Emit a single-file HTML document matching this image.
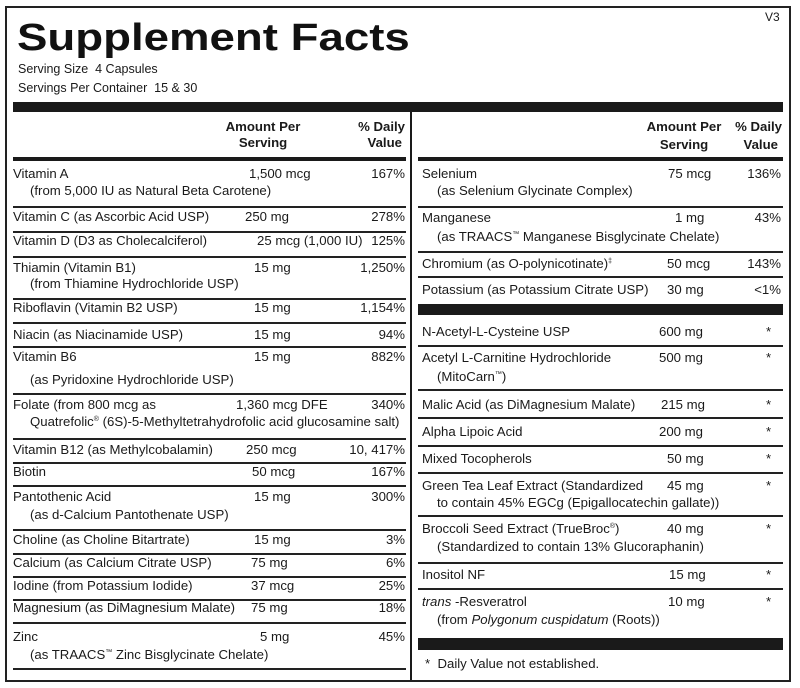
<!DOCTYPE html>
<html><head><meta charset="utf-8"><style>
body{margin:0;background:#fff;}
#c{position:relative;width:800px;height:688px;overflow:hidden;background:#fff;font-family:"Liberation Sans",Arial,sans-serif;color:#1a1a1a;font-size:13.2px;}
.t{position:absolute;white-space:nowrap;line-height:16px;}
.r{text-align:right;}
.b{font-weight:bold;}
.hl{position:absolute;background:#222;height:1.5px;}
.bar{position:absolute;background:#1a1a1a;}
sup{font-size:7px;line-height:0;vertical-align:5px;}
</style></head><body><div id="c">
<div style="position:absolute;left:5px;top:6px;width:782px;height:672px;border:2px solid #222;"></div>
<div class="t b" style="left:17px;top:15px;font-size:38px;line-height:46px;transform:scaleX(1.2);transform-origin:0 0;color:#111;">Supplement Facts</div>
<div class="t" style="left:765px;top:9px;font-size:12px;">V3</div>
<div class="t" style="left:18px;top:61px;font-size:12.5px;">Serving Size&nbsp; 4 Capsules</div>
<div class="t" style="left:18px;top:80px;font-size:12.5px;">Servings Per Container&nbsp; 15 &amp; 30</div>
<div class="bar" style="left:13px;top:102px;width:770px;height:10px;"></div>
<div class="bar" style="left:410px;top:112px;width:2px;height:568px;"></div>
<!-- headers -->
<div class="t b" style="left:213px;top:119px;width:100px;text-align:center;">Amount Per<br>Serving</div>
<div class="t b r" style="right:395px;top:119px;width:80px;">% Daily<br><span style="margin-right:3px">Value</span></div>
<div class="t b" style="left:634px;top:119px;width:100px;text-align:center;">Amount Per</div>
<div class="t b" style="left:634px;top:137px;width:100px;text-align:center;">Serving</div>
<div class="t b" style="left:732px;top:119px;width:50px;text-align:right;">% Daily</div>
<div class="t b" style="left:732px;top:137px;width:46px;text-align:right;">Value</div>
<div class="bar" style="left:13px;top:157px;width:393px;height:3.5px;"></div>
<div class="bar" style="left:418px;top:157px;width:365px;height:3.5px;"></div>
<!-- left lines -->
<div class="hl" style="left:13px;width:393px;top:206px"></div>
<div class="hl" style="left:13px;width:393px;top:231px"></div>
<div class="hl" style="left:13px;width:393px;top:256px"></div>
<div class="hl" style="left:13px;width:393px;top:298px"></div>
<div class="hl" style="left:13px;width:393px;top:322px"></div>
<div class="hl" style="left:13px;width:393px;top:346px"></div>
<div class="hl" style="left:13px;width:393px;top:393px"></div>
<div class="hl" style="left:13px;width:393px;top:438px"></div>
<div class="hl" style="left:13px;width:393px;top:462px"></div>
<div class="hl" style="left:13px;width:393px;top:485px"></div>
<div class="hl" style="left:13px;width:393px;top:529px"></div>
<div class="hl" style="left:13px;width:393px;top:553px"></div>
<div class="hl" style="left:13px;width:393px;top:576px"></div>
<div class="hl" style="left:13px;width:393px;top:599px"></div>
<div class="hl" style="left:13px;width:393px;top:622px"></div>
<div class="hl" style="left:13px;width:393px;top:668px"></div>
<!-- left text -->
<div class="t" style="left:13px;top:166px">Vitamin A</div><div class="t" style="left:30px;top:183px">(from 5,000 IU as Natural Beta Carotene)</div><div class="t" style="left:249px;top:166px">1,500 mcg</div><div class="t r" style="right:395px;top:166px">167%</div>
<div class="t" style="left:13px;top:209px">Vitamin C (as Ascorbic Acid USP)</div><div class="t" style="left:245px;top:209px">250 mg</div><div class="t r" style="right:395px;top:209px">278%</div>
<div class="t" style="left:13px;top:233px">Vitamin D (D3 as Cholecalciferol)</div><div class="t" style="left:257px;top:233px">25 mcg (1,000 IU)</div><div class="t r" style="right:395px;top:233px">125%</div>
<div class="t" style="left:13px;top:260px">Thiamin (Vitamin B1)</div><div class="t" style="left:30px;top:276px">(from Thiamine Hydrochloride USP)</div><div class="t" style="left:254px;top:260px">15 mg</div><div class="t r" style="right:395px;top:260px">1,250%</div>
<div class="t" style="left:13px;top:300px">Riboflavin (Vitamin B2 USP)</div><div class="t" style="left:254px;top:300px">15 mg</div><div class="t r" style="right:395px;top:300px">1,154%</div>
<div class="t" style="left:13px;top:327px">Niacin (as Niacinamide USP)</div><div class="t" style="left:254px;top:327px">15 mg</div><div class="t r" style="right:395px;top:327px">94%</div>
<div class="t" style="left:13px;top:349px">Vitamin B6</div><div class="t" style="left:30px;top:372px">(as Pyridoxine Hydrochloride USP)</div><div class="t" style="left:254px;top:349px">15 mg</div><div class="t r" style="right:395px;top:349px">882%</div>
<div class="t" style="left:13px;top:397px">Folate (from 800 mcg as</div><div class="t" style="left:30px;top:414px">Quatrefolic<sup>®</sup> (6S)-5-Methyltetrahydrofolic acid glucosamine salt)</div><div class="t" style="left:236px;top:397px">1,360 mcg DFE</div><div class="t r" style="right:395px;top:397px">340%</div>
<div class="t" style="left:13px;top:442px">Vitamin B12 (as Methylcobalamin)</div><div class="t" style="left:246px;top:442px">250 mcg</div><div class="t r" style="right:395px;top:442px">10, 417%</div>
<div class="t" style="left:13px;top:464px">Biotin</div><div class="t" style="left:252px;top:464px">50 mcg</div><div class="t r" style="right:395px;top:464px">167%</div>
<div class="t" style="left:13px;top:489px">Pantothenic Acid</div><div class="t" style="left:30px;top:507px">(as d-Calcium Pantothenate USP)</div><div class="t" style="left:254px;top:489px">15 mg</div><div class="t r" style="right:395px;top:489px">300%</div>
<div class="t" style="left:13px;top:532px">Choline (as Choline Bitartrate)</div><div class="t" style="left:254px;top:532px">15 mg</div><div class="t r" style="right:395px;top:532px">3%</div>
<div class="t" style="left:13px;top:555px">Calcium (as Calcium Citrate USP)</div><div class="t" style="left:251px;top:555px">75 mg</div><div class="t r" style="right:395px;top:555px">6%</div>
<div class="t" style="left:13px;top:578px">Iodine (from Potassium Iodide)</div><div class="t" style="left:251px;top:578px">37 mcg</div><div class="t r" style="right:395px;top:578px">25%</div>
<div class="t" style="left:13px;top:600px">Magnesium (as DiMagnesium Malate)</div><div class="t" style="left:251px;top:600px">75 mg</div><div class="t r" style="right:395px;top:600px">18%</div>
<div class="t" style="left:13px;top:629px">Zinc</div><div class="t" style="left:30px;top:647px">(as TRAACS<sup>™</sup> Zinc Bisglycinate Chelate)</div><div class="t" style="left:260px;top:629px">5 mg</div><div class="t r" style="right:395px;top:629px">45%</div>
<!-- right lines -->
<div class="hl" style="left:418px;width:365px;top:206px"></div>
<div class="hl" style="left:418px;width:365px;top:251px"></div>
<div class="hl" style="left:418px;width:365px;top:276px"></div>
<div class="bar" style="left:418px;top:304px;width:365px;height:11px;"></div>
<div class="hl" style="left:418px;width:365px;top:345px"></div>
<div class="hl" style="left:418px;width:365px;top:389px"></div>
<div class="hl" style="left:418px;width:365px;top:417px"></div>
<div class="hl" style="left:418px;width:365px;top:445px"></div>
<div class="hl" style="left:418px;width:365px;top:472px"></div>
<div class="hl" style="left:418px;width:365px;top:515px"></div>
<div class="hl" style="left:418px;width:365px;top:562px"></div>
<div class="hl" style="left:418px;width:365px;top:588px"></div>
<div class="bar" style="left:418px;top:638px;width:365px;height:12px;"></div>
<!-- right text -->
<div class="t" style="left:422px;top:166px">Selenium</div><div class="t" style="left:437px;top:183px">(as Selenium Glycinate Complex)</div><div class="t" style="left:668px;top:166px">75 mcg</div><div class="t r" style="right:19px;top:166px">136%</div>
<div class="t" style="left:422px;top:210px">Manganese</div><div class="t" style="left:437px;top:229px">(as TRAACS<sup>™</sup> Manganese Bisglycinate Chelate)</div><div class="t" style="left:675px;top:210px">1 mg</div><div class="t r" style="right:19px;top:210px">43%</div>
<div class="t" style="left:422px;top:256px">Chromium (as O-polynicotinate)<sup>‡</sup></div><div class="t" style="left:667px;top:256px">50 mcg</div><div class="t r" style="right:19px;top:256px">143%</div>
<div class="t" style="left:422px;top:282px">Potassium (as Potassium Citrate USP)</div><div class="t" style="left:667px;top:282px">30 mg</div><div class="t r" style="right:19px;top:282px">&lt;1%</div>
<div class="t" style="left:422px;top:324px">N-Acetyl-L-Cysteine USP</div><div class="t" style="left:659px;top:324px">600 mg</div><div class="t" style="left:766px;top:324px">*</div>
<div class="t" style="left:422px;top:350px">Acetyl L-Carnitine Hydrochloride</div><div class="t" style="left:437px;top:369px">(MitoCarn<sup>™</sup>)</div><div class="t" style="left:659px;top:350px">500 mg</div><div class="t" style="left:766px;top:350px">*</div>
<div class="t" style="left:422px;top:397px">Malic Acid (as DiMagnesium Malate)</div><div class="t" style="left:661px;top:397px">215 mg</div><div class="t" style="left:766px;top:397px">*</div>
<div class="t" style="left:422px;top:424px">Alpha Lipoic Acid</div><div class="t" style="left:659px;top:424px">200 mg</div><div class="t" style="left:766px;top:424px">*</div>
<div class="t" style="left:422px;top:451px">Mixed Tocopherols</div><div class="t" style="left:667px;top:451px">50 mg</div><div class="t" style="left:766px;top:451px">*</div>
<div class="t" style="left:422px;top:478px">Green Tea Leaf Extract (Standardized</div><div class="t" style="left:437px;top:495px">to contain 45% EGCg (Epigallocatechin gallate))</div><div class="t" style="left:667px;top:478px">45 mg</div><div class="t" style="left:766px;top:478px">*</div>
<div class="t" style="left:422px;top:521px">Broccoli Seed Extract (TrueBroc<sup>®</sup>)</div><div class="t" style="left:437px;top:539px">(Standardized to contain 13% Glucoraphanin)</div><div class="t" style="left:667px;top:521px">40 mg</div><div class="t" style="left:766px;top:521px">*</div>
<div class="t" style="left:422px;top:567px">Inositol NF</div><div class="t" style="left:669px;top:567px">15 mg</div><div class="t" style="left:766px;top:567px">*</div>
<div class="t" style="left:422px;top:594px"><i>trans</i> -Resveratrol</div><div class="t" style="left:437px;top:612px">(from <i>Polygonum cuspidatum</i> (Roots))</div><div class="t" style="left:668px;top:594px">10 mg</div><div class="t" style="left:766px;top:594px">*</div>
<div class="t" style="left:425px;top:656px">*&nbsp; Daily Value not established.</div>
</div></body></html>
